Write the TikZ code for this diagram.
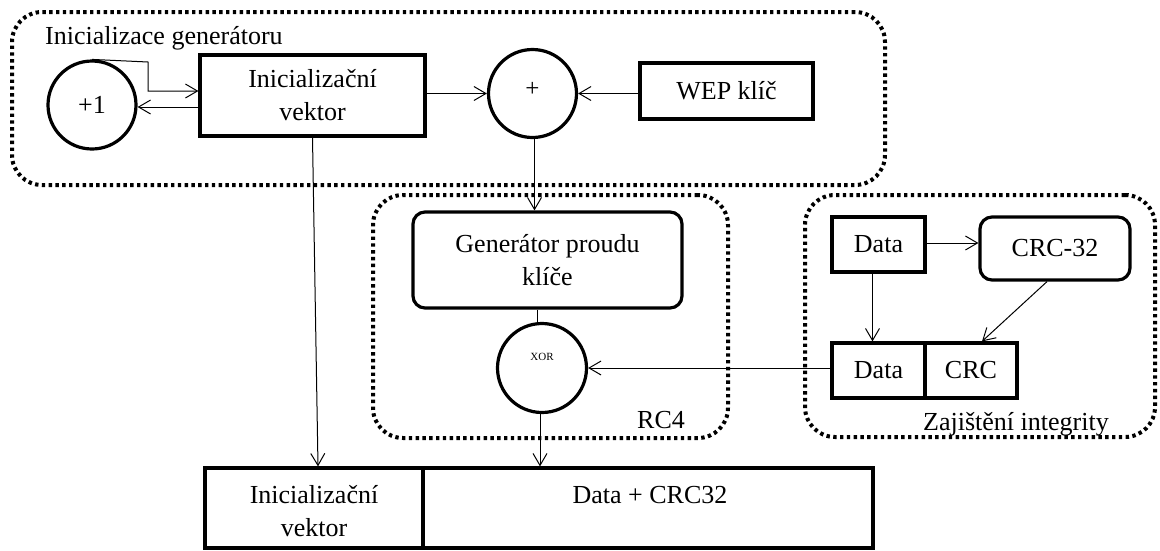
\documentclass[tikz,border=0pt]{standalone}
\usepackage{fontspec}
\setmainfont{Liberation Serif}
\usetikzlibrary{arrows.meta,calc}

\tikzset{
  every node/.style={font=\fontsize{26}{33}\selectfont, text=black},
  box/.style={draw, line width=3.2pt, rectangle, inner sep=0pt, align=center},
  rbox/.style={box, rounded corners=12pt},
  ring/.style={draw, line width=3.2pt, circle, inner sep=0pt},
  group/.style={draw, line width=4pt, dash pattern=on 3.4pt off 3.4pt, rounded corners=30pt, inner sep=0pt},
  arr/.style={line width=1pt, -{Straight Barb[length=12pt, width=14pt, line width=1pt]}},
  con/.style={line width=1pt},
  lbl/.style={inner sep=0pt, anchor=base west}
}

\begin{document}
\begin{tikzpicture}[x=1pt, y=-1pt]
\useasboundingbox (0,0) rectangle (1160,550);

% dotted groups
\node[group, minimum width=873pt, minimum height=173pt] (g1) at (448.5,98.5) {};
\node[group, minimum width=355pt, minimum height=243pt] (g2) at (550.5,316.5) {};
\node[group, minimum width=350pt, minimum height=242pt] (g3) at (980,316) {};

\node[lbl] (t1) at (45,44) {Inicializace generátoru};
\node[lbl] (t2) at (637,428) {RC4};
\node[lbl] (t3) at (923,430) {Zajištění integrity};

% key setup
\node[ring, minimum size=88pt] (p1) at (92,105) {+1};
\node[box, minimum width=225pt, minimum height=81pt] (iv) at (312.5,95.5) {Inicializační\\vektor};
\node[ring, minimum size=88pt] (plus) at (532.5,93.5) {};
\node[inner sep=0pt, font=\fontsize{25}{26}\selectfont] (plust) at (532.5,89) {+};
\node[box, minimum width=173pt, minimum height=56pt] (wep) at (726.5,91) {WEP klíč};

% RC4
\node[rbox, minimum width=269pt, minimum height=96pt] (gen) at (547.5,260) {Generátor proudu\\klíče};
\node[ring, minimum size=89pt] (xor) at (542,368) {};
\node[inner sep=0pt, font=\fontsize{11}{12}\selectfont] (xt) at (542,357) {XOR};

% integrity
\node[box, minimum width=93pt, minimum height=55pt] (d1) at (878.5,244.5) {Data};
\node[rbox, minimum width=150pt, minimum height=63pt] (crc32) at (1055,248.5) {CRC-32};
\node[box, minimum width=93pt, minimum height=55pt] (d2) at (878.5,370.5) {Data};
\node[box, minimum width=92pt, minimum height=55pt] (crc) at (971,370.5) {CRC};

% output frame
\node[box, minimum width=218pt, minimum height=80pt] (iv2) at (314,508) {};
\node[box, minimum width=450pt, minimum height=80pt] (dc) at (648,508) {};
\node[inner sep=0pt, align=center] (iv2t) at (314,511) {Inicializační\\vektor};
\node[inner sep=0pt] (dct) at (650,495) {Data + CRC32};

% connectors
\coordinate (k1) at (148,62);
\coordinate (k2) at (148,91);
\coordinate (r1) at (0,107);
\draw[arr] (p1.north) -- (k1) -- (k2) -- (k2 -| iv.west);
\draw[arr] (iv.west |- r1) -- (p1.east |- r1);
\draw[arr] (iv.east |- plus.west) -- (plus.west);
\draw[arr] (wep.west |- plus.east) -- (plus.east);
\draw[arr] ($(plus.south)+(2,0)$) -- ($(plus.south |- gen.north)+(2,0)$);
\draw[con] ($(xor.north |- gen.south)+(-5,0)$) -- ($(xor.north)+(-5,0)$);
\draw[arr] ($(xor.south)+(-2,0)$) -- ($(xor.south |- dc.north)+(-2,0)$);
\draw[arr] (d2.west |- xor.east) -- (xor.east);
\draw[arr] ($(d1.east)+(0,-1.5)$) -- ($(crc32.west |- d1.east)+(0,-1.5)$);
\draw[arr] ($(d1.south)+(-6,0)$) -- ($(d2.north)+(-6,0)$);
\draw[arr] ($(crc32.south)+(-8,0)$) -- ($(crc.north)+(11,0)$);
\draw[arr] (iv.south) -- ($(iv2.north)+(4,0)$);
\end{tikzpicture}
\end{document}
